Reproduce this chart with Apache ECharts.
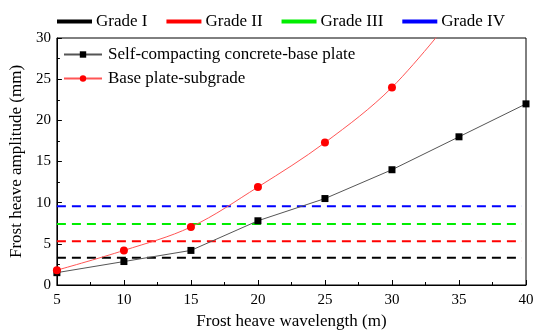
<!DOCTYPE html>
<html><head><meta charset="utf-8">
<script src="https://cdn.jsdelivr.net/npm/echarts@6/dist/echarts.min.js"></script>
<style>html,body{margin:0;padding:0;background:#fff}#c{width:550px;height:335px}</style>
</head><body><div id="c"></div>
<script>
const wavelengths = [5, 10, 15, 20, 25, 30, 35, 40];
const scBase = [1.5, 2.85, 4.2, 7.8, 10.5, 14.0, 18.0, 22.0];
const baseSub = [1.8, 4.2, 7.05, 11.9, 17.3, 24.0, 33.5, null];
const gradeNames = ['Grade I', 'Grade II', 'Grade III', 'Grade IV'];
const gradeValues = [3.3, 5.3, 7.4, 9.55];
const gradeColors = ['#000000', '#ff0000', '#00ee00', '#0000ff'];
const gradeSpan = [5, 39.7];

const font = "'Liberation Serif', 'Times New Roman', serif";
const chart = echarts.init(document.getElementById('c'));
const series = [];
gradeNames.forEach((n, i) => {
  series.push({
    name: n, type: 'line', symbol: 'none', silent: true,
    data: gradeSpan.map(x => [x, gradeValues[i]]),
    lineStyle: {color: gradeColors[i], width: 2, type: [9, 6]},
    itemStyle: {color: gradeColors[i]}, z: 2
  });
});
series.push({
  name: 'Self-compacting concrete-base plate', type: 'line',
  data: wavelengths.map((x, i) => [x, scBase[i]]),
  symbol: 'rect', symbolSize: 7,
  lineStyle: {color: '#555555', width: 1},
  itemStyle: {color: '#000000'}, z: 5
});
series.push({
  name: 'Base plate-subgrade', type: 'line', smooth: 0.35,
  data: wavelengths.map((x, i) => [x, baseSub[i]]).filter(d => d[1] !== null),
  symbol: 'circle', symbolSize: 8,
  lineStyle: {color: '#ff5555', width: 1},
  itemStyle: {color: '#ff0000'}, z: 5
});

chart.setOption({
  animation: false,
  textStyle: {fontFamily: font},
  grid: {left: 51, right: 24, top: 38, bottom: 49, show: true, borderColor: '#000', borderWidth: 1},
  legend: [{
    data: gradeNames.map((n, i) => ({name: n, icon: 'rect', itemStyle: {color: gradeColors[i]}})),
    left: 57, top: 13, padding: 0, itemWidth: 35, itemHeight: 4, itemGap: 19,
    textStyle: {fontFamily: font, fontSize: 17, color: '#000', padding: [0, 0, 0, -1]}
  }, {
    data: ['Self-compacting concrete-base plate', 'Base plate-subgrade'],
    orient: 'vertical', left: 63, top: 46, padding: 0, itemWidth: 38, itemHeight: 8, itemGap: 7,
    textStyle: {fontFamily: font, fontSize: 17, color: '#000', padding: [0, 0, 0, 1]}
  }],
  xAxis: {
    type: 'value', min: 5, max: 40, interval: 5,
    name: 'Frost heave wavelength (m)', nameLocation: 'middle', nameGap: 28,
    nameTextStyle: {fontFamily: font, fontSize: 17, color: '#000'},
    axisLine: {lineStyle: {color: '#000', width: 1}},
    axisTick: {inside: true, length: 5, lineStyle: {color: '#000'}},
    minorTick: {show: true, splitNumber: 2, length: 3, lineStyle: {color: '#000'}},
    axisLabel: {fontFamily: font, fontSize: 15, color: '#000', margin: 8},
    splitLine: {show: false}
  },
  yAxis: {
    type: 'value', min: 0, max: 30, interval: 5,
    name: 'Frost heave amplitude (mm)', nameLocation: 'middle', nameGap: 25,
    nameTextStyle: {fontFamily: font, fontSize: 17, color: '#000'},
    axisLine: {lineStyle: {color: '#000', width: 1}},
    axisTick: {inside: true, length: 5, lineStyle: {color: '#000'}},
    minorTick: {show: true, splitNumber: 2, length: 3, lineStyle: {color: '#000'}},
    axisLabel: {fontFamily: font, fontSize: 15, color: '#000', margin: 6},
    splitLine: {show: false}
  },
  series: series
});
</script></body></html>
